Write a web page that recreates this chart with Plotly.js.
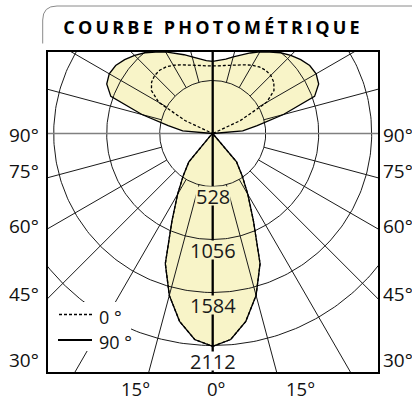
<!DOCTYPE html>
<html><head><meta charset="utf-8">
<script src="https://cdn.plot.ly/plotly-3.0.1.min.js"></script>
<style>
html,body{margin:0;padding:0;background:#fff;}
#chart{width:412px;height:400px;}
.gtitle{letter-spacing:3.2px;}
</style></head><body><div id="chart"></div>
<script>
// Photometric data: gamma angle from nadir (deg) and luminous intensity (cd)
const gammaDeg = [0,5,10,15,20,25,30,35,40,45,50,55,60,65,70,75,80,85,90,
                  95,100,105,110,115,120,125,130,135,140,145,150,155,160,165,170,175,180];
// plane C0 (dashed)
const intensityC0 = [2120,2060,1900,1670,1380,960,700,510,370,40,0,0,0,0,0,0,0,0,0,
                     0,0,0,0,300,620,745,795,818,822,810,785,755,728,705,688,676,670];
// plane C90 (solid)
const intensityC90 = [2120,2060,1900,1670,1380,960,700,510,370,40,0,0,0,0,0,0,0,0,0,
                      300,450,730,1080,1165,1190,1180,1145,1100,1050,990,940,885,835,790,752,728,718];
const ringValues = [528,1056,1584,2112];
const radialAngles = [15,30,45,60,75,105,120,135,150,165];
const sideLabels = ['90°','75°','60°','45°','30°'];
const bottomLabels = ['15°','0°','15°'];
const legendNames = ['0 °','90 °'];
const titleText = 'COURBE PHOTOMÉTRIQUE';

const D2R = Math.PI/180;
const FILL = '#f8f4c8';
const FAR = 8000;

function closedCurve(I){
  const x=[], y=[];
  for(let i=0;i<gammaDeg.length;i++){ x.push(I[i]*Math.sin(gammaDeg[i]*D2R)); y.push(-I[i]*Math.cos(gammaDeg[i]*D2R)); }
  for(let i=gammaDeg.length-1;i>=0;i--){ x.push(-I[i]*Math.sin(gammaDeg[i]*D2R)); y.push(-I[i]*Math.cos(gammaDeg[i]*D2R)); }
  return {x,y};
}
const c0 = closedCurve(intensityC0);
const c90 = closedCurve(intensityC90);

// grid rings
const ringX=[], ringY=[];
ringValues.forEach(r=>{
  for(let a=0;a<=360;a+=1){ ringX.push(r*Math.sin(a*D2R)); ringY.push(-r*Math.cos(a*D2R)); }
  ringX.push(null); ringY.push(null);
});
// radial lines (from first ring outward)
const radX=[], radY=[];
radialAngles.forEach(g=>{
  [1,-1].forEach(s=>{
    radX.push(s*ringValues[0]*Math.sin(g*D2R), s*FAR*Math.sin(g*D2R), null);
    radY.push(-ringValues[0]*Math.cos(g*D2R), -FAR*Math.cos(g*D2R), null);
  });
});

const DASH = '3px,2px';
const traces = [
  {x:c90.x, y:c90.y, mode:'lines', fill:'toself', fillcolor:FILL, line:{width:0,color:FILL}, hoverinfo:'skip'},
  {x:ringX, y:ringY, mode:'lines', line:{color:'#1a1a1a', width:1}, hoverinfo:'skip'},
  {x:radX, y:radY, mode:'lines', line:{color:'#1a1a1a', width:1}, hoverinfo:'skip'},
  {x:[-FAR*Math.sin(90*D2R), FAR*Math.sin(90*D2R)], y:[0,0], mode:'lines', line:{color:'#808080', width:1.5}, hoverinfo:'skip'},
  {x:[0,0], y:[-FAR, FAR], mode:'lines', line:{color:'#000', width:2.3}, hoverinfo:'skip'},
  {x:c90.x, y:c90.y, mode:'lines', name:legendNames[1], line:{color:'#000', width:1.3}},
  {x:c0.x, y:c0.y, mode:'lines', name:legendNames[0], line:{color:'#000', width:1.3, dash:DASH}}
];

// layout geometry
const L=47, T=51, W=332, H=322;
const pxPerCd = 212/2112;
const cx = 212.7, cy = 133.5;
const xr = [-(cx-L)/pxPerCd, (L+W-cx)/pxPerCd];
const yr = [-(T+H-cy)/pxPerCd, (cy-T)/pxPerCd];
const px = v => (v-L)/W;
const py = v => (T+H-v)/H;

const FONT = 'Open Sans, Noto Sans, sans-serif';
const annotations = [];
const ringLabelShift = [-9.5,-10.5,-12.5,-15.5];
ringValues.forEach((r,i)=>{
  annotations.push({x:0, y:-r, xref:'x', yref:'y', text:String(r), showarrow:false,
    yshift:ringLabelShift[i], bgcolor: i<3?FILL:'#ffffff', borderpad:0, height:18,
    font:{family:FONT, size:20, color:'#1a1a1a'}});
});
const sideY = [134.5,170.5,226.5,294,360];
sideLabels.forEach((t,i)=>{
  annotations.push({x:px(41), y:py(sideY[i]), xref:'paper', yref:'paper', text:t, showarrow:false, xanchor:'right', yanchor:'middle', height:18, font:{family:FONT,size:19,color:'#111'}});
  annotations.push({x:px(381), y:py(sideY[i]), xref:'paper', yref:'paper', text:t, showarrow:false, xanchor:'left', yanchor:'middle', height:18, font:{family:FONT,size:19,color:'#111'}});
});
const bottomX = [135.8,216.7,300];
bottomLabels.forEach((t,i)=>{
  annotations.push({x:px(bottomX[i]), y:py(387.5), xref:'paper', yref:'paper', text:t, showarrow:false, xanchor:'center', yanchor:'middle', height:16, font:{family:FONT,size:18.5,color:'#111'}});
});
// legend texts
const legY = [317, 342];
legendNames.forEach((t,i)=>{
  annotations.push({x:px(97), y:py(legY[i]), xref:'paper', yref:'paper', text:t, showarrow:false, xanchor:'left', yanchor:'middle', height:18, font:{family:FONT,size:18,color:'#111'}});
});

const shapes = [
  // legend background
  {type:'rect', xref:'paper', yref:'paper', x0:px(48.5), x1:px(131), y0:py(351), y1:py(302), fillcolor:'#fff', line:{width:0}, layer:'above'},
  {type:'line', xref:'paper', yref:'paper', x0:px(59), x1:px(92), y0:py(314.5), y1:py(314.5), line:{color:'#000', width:1.3, dash:DASH}, layer:'above'},
  {type:'line', xref:'paper', yref:'paper', x0:px(58), x1:px(92), y0:py(340), y1:py(340), line:{color:'#000', width:2}, layer:'above'},
  // frame
  {type:'rect', xref:'paper', yref:'paper', x0:0, x1:1, y0:0, y1:1, line:{color:'#000', width:2}, layer:'above'},
  // title decoration
  {type:'path', xref:'paper', yref:'paper',
   path:`M ${px(42.7)},${py(43.5)} L ${px(42.7)},${py(20)} Q ${px(42.7)},${py(6)} ${px(57)},${py(6)} L ${px(415)},${py(6)}`,
   line:{color:'#8a8a8a', width:1}, layer:'above'}
];

const layout = {
  width:412, height:400,
  margin:{l:L, r:412-L-W, t:T, b:400-T-H, pad:0},
  paper_bgcolor:'#fff', plot_bgcolor:'#fff',
  title:{text:titleText, x:(211.5+1.6)/412, xref:'container', xanchor:'center', y:1-27.5/400, yref:'container', yanchor:'middle',
         font:{family:FONT, size:18, weight:700, color:'#000'}},
  xaxis:{range:xr, visible:false, fixedrange:true},
  yaxis:{range:yr, visible:false, fixedrange:true},
  showlegend:false,
  annotations, shapes
};

Plotly.newPlot('chart', traces, layout, {displayModeBar:false, staticPlot:true});
</script></body></html>
